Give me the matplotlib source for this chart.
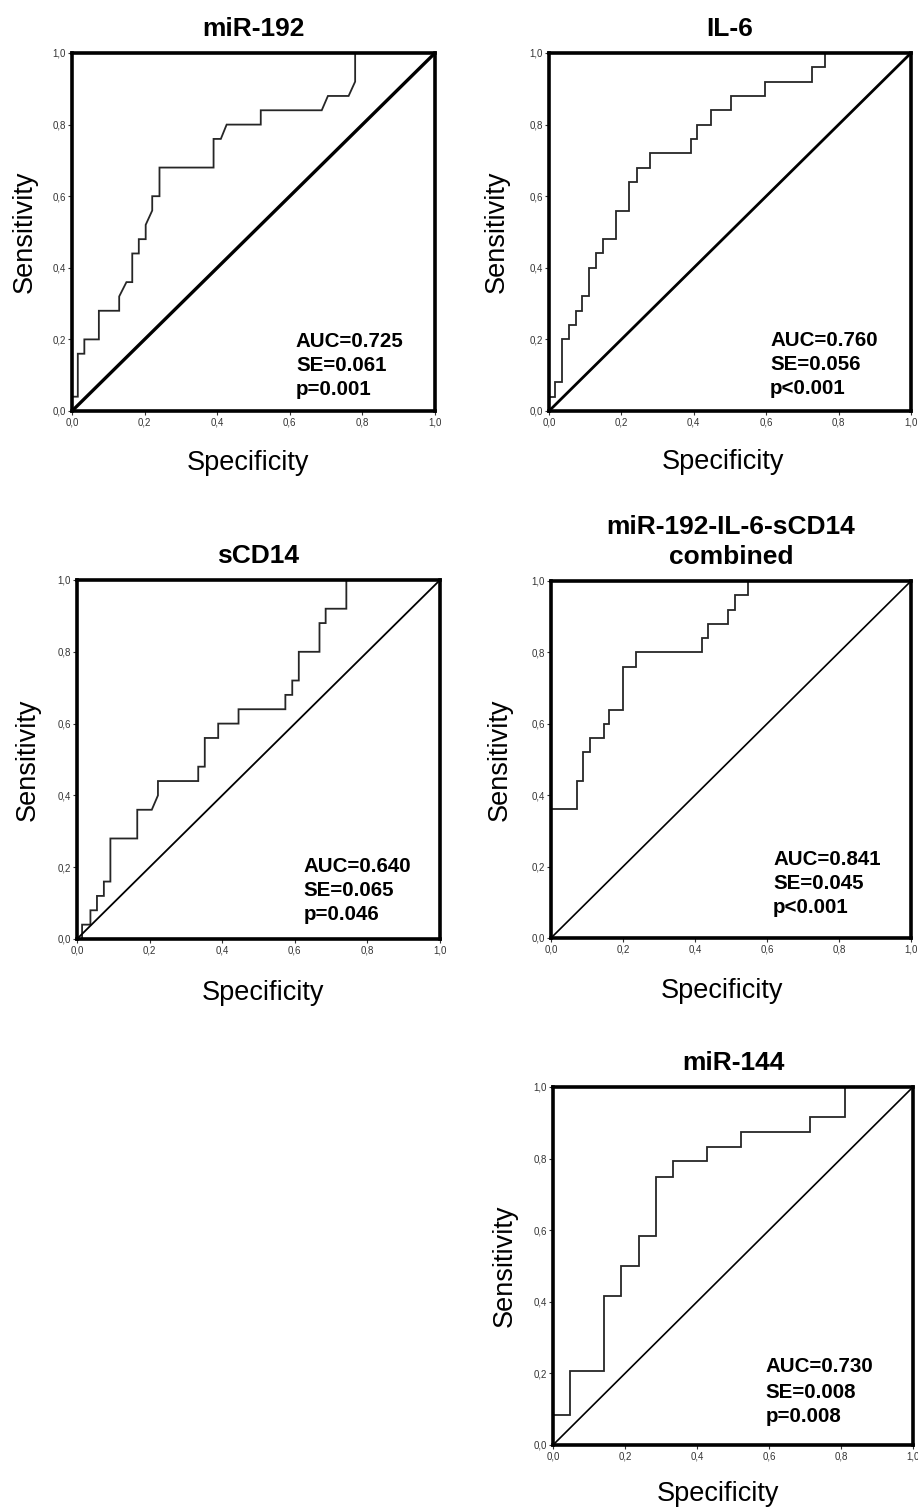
import matplotlib
matplotlib.use("Agg")
import matplotlib.pyplot as plt

plt.rcParams['font.family'] = ['Liberation Sans', 'DejaVu Sans']

# ROC curves (x = 1 - specificity, y = sensitivity)
mir192_fpr = [0.0, 0.0, 0.016, 0.016, 0.034, 0.034, 0.074, 0.074, 0.13, 0.13, 0.15, 0.166, 0.166,
              0.184, 0.184, 0.203, 0.203, 0.221, 0.221, 0.241, 0.241, 0.39, 0.39, 0.41, 0.426,
              0.52, 0.52, 0.688, 0.705, 0.762, 0.78, 0.78, 1.0]
mir192_tpr = [0.0, 0.04, 0.04, 0.16, 0.16, 0.20, 0.20, 0.28, 0.28, 0.32, 0.36, 0.36, 0.44,
              0.44, 0.48, 0.48, 0.52, 0.56, 0.60, 0.60, 0.68, 0.68, 0.76, 0.76, 0.80,
              0.80, 0.84, 0.84, 0.88, 0.88, 0.92, 1.0, 1.0]

il6_fpr = [0.0, 0.0, 0.016, 0.016, 0.036, 0.036, 0.055, 0.055, 0.074, 0.074, 0.092, 0.092,
           0.11, 0.11, 0.13, 0.13, 0.148, 0.148, 0.186, 0.186, 0.221, 0.221, 0.242, 0.242,
           0.279, 0.279, 0.391, 0.391, 0.41, 0.41, 0.447, 0.447, 0.503, 0.503, 0.597, 0.597,
           0.726, 0.726, 0.763, 0.763, 1.0]
il6_tpr = [0.0, 0.04, 0.04, 0.08, 0.08, 0.20, 0.20, 0.24, 0.24, 0.28, 0.28, 0.32,
           0.32, 0.40, 0.40, 0.44, 0.44, 0.48, 0.48, 0.56, 0.56, 0.64, 0.64, 0.68,
           0.68, 0.72, 0.72, 0.76, 0.76, 0.80, 0.80, 0.84, 0.84, 0.88, 0.88, 0.92,
           0.92, 0.96, 0.96, 1.0, 1.0]

scd14_fpr = [0.0, 0.014, 0.014, 0.037, 0.037, 0.055, 0.055, 0.074, 0.074, 0.092, 0.092,
             0.166, 0.166, 0.206, 0.223, 0.223, 0.334, 0.334, 0.352, 0.352, 0.389, 0.389,
             0.445, 0.445, 0.574, 0.574, 0.593, 0.593, 0.611, 0.611, 0.668, 0.668, 0.685,
             0.685, 0.742, 0.742, 1.0]
scd14_tpr = [0.0, 0.0, 0.04, 0.04, 0.08, 0.08, 0.12, 0.12, 0.16, 0.16, 0.28,
             0.28, 0.36, 0.36, 0.40, 0.44, 0.44, 0.48, 0.48, 0.56, 0.56, 0.60,
             0.60, 0.64, 0.64, 0.68, 0.68, 0.72, 0.72, 0.80, 0.80, 0.88, 0.88,
             0.92, 0.92, 1.0, 1.0]

comb_fpr = [0.0, 0.0, 0.072, 0.072, 0.09, 0.09, 0.109, 0.109, 0.146, 0.146, 0.162, 0.162,
            0.2, 0.2, 0.237, 0.237, 0.42, 0.42, 0.435, 0.435, 0.491, 0.491, 0.51, 0.51,
            0.547, 0.547, 1.0]
comb_tpr = [0.0, 0.36, 0.36, 0.44, 0.44, 0.52, 0.52, 0.56, 0.56, 0.60, 0.60, 0.64,
            0.64, 0.76, 0.76, 0.80, 0.80, 0.84, 0.84, 0.88, 0.88, 0.92, 0.92, 0.96,
            0.96, 1.0, 1.0]

mir144_fpr = [0.0, 0.0, 0.046, 0.046, 0.142, 0.142, 0.19, 0.19, 0.239, 0.239, 0.285, 0.285,
              0.332, 0.332, 0.427, 0.427, 0.523, 0.523, 0.713, 0.713, 0.81, 0.81, 1.0]
mir144_tpr = [0.0, 0.083, 0.083, 0.208, 0.208, 0.417, 0.417, 0.50, 0.50, 0.583, 0.583, 0.75,
              0.75, 0.792, 0.792, 0.833, 0.833, 0.875, 0.875, 0.917, 0.917, 1.0, 1.0]

titles = ['miR-192', 'IL-6', 'sCD14', 'miR-192-IL-6-sCD14\ncombined', 'miR-144']
stats = [['AUC=0.725', 'SE=0.061', 'p=0.001'],
         ['AUC=0.760', 'SE=0.056', 'p<0.001'],
         ['AUC=0.640', 'SE=0.065', 'p=0.046'],
         ['AUC=0.841', 'SE=0.045', 'p<0.001'],
         ['AUC=0.730', 'SE=0.008', 'p=0.008']]
ticks = [0.0, 0.2, 0.4, 0.6, 0.8, 1.0]
tick_labels = ['0,0', '0,2', '0,4', '0,6', '0,8', '1,0']

curves = [(mir192_fpr, mir192_tpr), (il6_fpr, il6_tpr), (scd14_fpr, scd14_tpr),
          (comb_fpr, comb_tpr), (mir144_fpr, mir144_tpr)]

# axes boxes in pixels: left, top, right, bottom
W, H = 918, 1507
boxes = [(72, 53, 435, 411), (549, 53, 911, 411), (77, 580, 440, 939),
         (551, 581, 911, 938), (553, 1087, 913, 1445)]
text_x = [0.617, 0.611, 0.625, 0.617, 0.591]
text_y = [[0.179, 0.112, 0.045], [0.182, 0.115, 0.048], [0.186, 0.121, 0.054],
          [0.205, 0.137, 0.070], [0.205, 0.132, 0.063]]
diag_lw = [2.4, 2.0, 1.3, 1.2, 1.2]
ylab_x = [-0.13, -0.143, -0.135, -0.142, -0.133]
xlab_pos = [(0.485, -0.145), (0.48, -0.142), (0.512, -0.15), (0.475, -0.148), (0.458, -0.137)]

fig = plt.figure(figsize=(W / 100, H / 100), dpi=100)

for i in range(5):
  l, t, r, b = boxes[i]
  ax = fig.add_axes([l / W, 1 - b / H, (r - l) / W, (b - t) / H])
  fpr, tpr = curves[i]
  ax.plot(fpr, tpr, color='#262626', lw=1.3, solid_joinstyle='miter')
  ax.plot([0, 1], [0, 1], color='black', lw=diag_lw[i])
  ax.set_xlim(0, 1)
  ax.set_ylim(0, 1)
  ax.set_xticks(ticks)
  ax.set_xticklabels(tick_labels)
  ax.set_yticks(ticks)
  ax.set_yticklabels(tick_labels)
  ax.tick_params(direction='out', length=3, width=0.8, labelsize=7, colors='#333333', pad=1.5)
  for s in ax.spines.values():
    s.set_linewidth(2.6)
  ax.set_title(titles[i], fontsize=19, fontweight='bold', pad=12, linespacing=1.35)
  ax.set_xlabel('Specificity', fontsize=19.5)
  ax.set_ylabel('Sensitivity', fontsize=19.5)
  ax.xaxis.set_label_coords(*xlab_pos[i])
  ax.xaxis.label.set_va('center')
  ax.yaxis.set_label_coords(ylab_x[i], 0.5)
  ax.yaxis.label.set_va('center')
  for j in range(3):
    ax.text(text_x[i], text_y[i][j], stats[i][j], fontsize=14.8, fontweight='bold',
            va='baseline', ha='left')

fig.savefig('out.png', dpi=100)
